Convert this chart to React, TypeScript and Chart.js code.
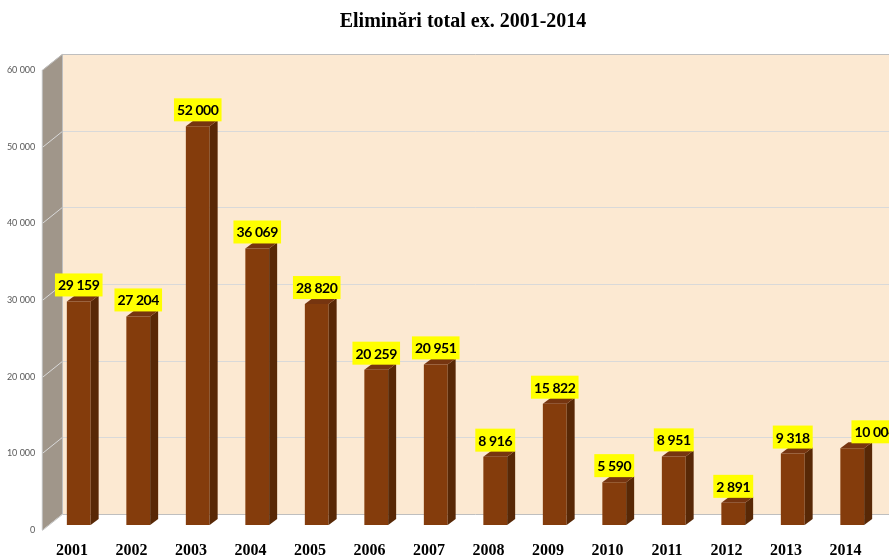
import React, { useEffect, useRef } from "react";
import { Chart, registerables } from "chart.js";

Chart.register(...registerables);

const titleText = "Eliminări total ex. 2001-2014";
const categories = ["2001", "2002", "2003", "2004", "2005", "2006", "2007", "2008", "2009", "2010", "2011", "2012", "2013", "2014"];
const values = [29159, 27204, 52000, 36069, 28820, 20259, 20951, 8916, 15822, 5590, 8951, 2891, 9318, 10004];
const yTicks = [0, 10000, 20000, 30000, 40000, 50000, 60000];

const fmt = (v: number) => String(v).replace(/\B(?=(\d{3})+(?!\d))/g, " ");

// 3D geometry (pixels)
const FRONT = { dx: -6.7, dy: 5 };
const BACK = { dx: 13.3, dy: -11 };
const BAR_DEPTH = { dx: 8, dy: -6 };
const LAST_LABEL_SHIFT = 23;

const COLORS = {
  wall: "#FCE9D2",
  side: "#A0968A",
  grid: "#D9D9D9",
  front: "#843C0C",
  barSide: "#582806",
  barTop: "#763510",
  label: "#FFFF00",
};

const plugin3d = {
  id: "excel3d",
  beforeDatasetsDraw(chart: any) {
    const ctx = chart.ctx;
    const { left } = chart.chartArea;
    const y = chart.scales.y;
    const W = chart.width;
    const yTop = y.getPixelForValue(60000);
    const y0 = y.getPixelForValue(0);
    ctx.save();
    // back wall
    ctx.fillStyle = COLORS.wall;
    ctx.fillRect(left + BACK.dx, yTop + BACK.dy, W - (left + BACK.dx), y0 - yTop);
    // side wall
    ctx.fillStyle = COLORS.side;
    ctx.beginPath();
    ctx.moveTo(left + FRONT.dx, yTop + FRONT.dy);
    ctx.lineTo(left + BACK.dx, yTop + BACK.dy);
    ctx.lineTo(left + BACK.dx, y0 + BACK.dy);
    ctx.lineTo(left + FRONT.dx, y0 + FRONT.dy);
    ctx.closePath();
    ctx.fill();
    // gridlines
    ctx.lineWidth = 1;
    for (const v of yTicks) {
      const py = Math.round(y.getPixelForValue(v)) + 0.5;
      ctx.strokeStyle = v === 0 || v === 60000 ? "#BFBFBF" : COLORS.grid;
      ctx.beginPath();
      ctx.moveTo(left + FRONT.dx, py + FRONT.dy);
      ctx.lineTo(left + BACK.dx, py + BACK.dy);
      ctx.lineTo(W, py + BACK.dy);
      ctx.stroke();
    }
    // wall edges
    ctx.strokeStyle = "#BFBFBF";
    ctx.beginPath();
    ctx.moveTo(Math.round(left + BACK.dx) + 0.5, yTop + BACK.dy);
    ctx.lineTo(Math.round(left + BACK.dx) + 0.5, y0 + BACK.dy);
    ctx.moveTo(left + FRONT.dx, yTop + FRONT.dy);
    ctx.lineTo(left + FRONT.dx, y0 + FRONT.dy);
    ctx.stroke();

    // y tick labels
    ctx.fillStyle = "#595959";
    ctx.font = "9px Lato";
    ctx.textAlign = "right";
    ctx.textBaseline = "middle";
    for (const v of yTicks) {
      ctx.fillText(fmt(v), left + FRONT.dx - 7, y.getPixelForValue(v) + FRONT.dy);
    }
    // title
    ctx.fillStyle = "#000";
    ctx.font = "bold 20px 'Liberation Serif'";
    ctx.textAlign = "center";
    ctx.fillText(titleText, 463, 22);
    ctx.restore();
  },
  afterDatasetsDraw(chart: any) {
    const ctx = chart.ctx;
    const meta = chart.getDatasetMeta(0);
    ctx.save();
    meta.data.forEach((bar: any) => {
      const { x, y: top, base, width } = bar.getProps(["x", "y", "base", "width"], true);
      const l = x - width / 2;
      const r = x + width / 2;
      ctx.fillStyle = COLORS.barSide;
      ctx.beginPath();
      ctx.moveTo(r, top);
      ctx.lineTo(r + BAR_DEPTH.dx, top + BAR_DEPTH.dy);
      ctx.lineTo(r + BAR_DEPTH.dx, base + BAR_DEPTH.dy);
      ctx.lineTo(r, base);
      ctx.closePath();
      ctx.fill();
      ctx.fillStyle = COLORS.barTop;
      ctx.beginPath();
      ctx.moveTo(l, top);
      ctx.lineTo(l + BAR_DEPTH.dx, top + BAR_DEPTH.dy);
      ctx.lineTo(r + BAR_DEPTH.dx, top + BAR_DEPTH.dy);
      ctx.lineTo(r, top);
      ctx.closePath();
      ctx.fill();
    });
    // x labels
    ctx.fillStyle = "#000";
    ctx.font = "bold 16px 'Liberation Serif'";
    ctx.textAlign = "center";
    ctx.textBaseline = "middle";
    meta.data.forEach((bar: any, i: number) => {
      ctx.fillText(categories[i], bar.x + FRONT.dx, 551);
    });
    // data labels
    ctx.font = "bold 14px Lato";
    try { (ctx as any).letterSpacing = "-0.4px"; } catch (e) {}
    meta.data.forEach((bar: any, i: number) => {
      const txt = fmt(values[i]);
      const tw = ctx.measureText(txt).width;
      const bw = tw + 6;
      const bh = 23;
      const cx = bar.x + (i === values.length - 1 ? LAST_LABEL_SHIFT : 0);
      const bottom = bar.y - 5;
      ctx.fillStyle = COLORS.label;
      ctx.fillRect(cx - bw / 2, bottom - bh, bw, bh);
      ctx.fillStyle = "#000";
      ctx.fillText(txt, cx, bottom - bh / 2 + 1);
    });
    ctx.restore();
  },
};

export default function App() {
  const ref = useRef<HTMLCanvasElement | null>(null);
  useEffect(() => {
    if (!ref.current) return;
    const chart = new Chart(ref.current, {
      type: "bar",
      data: {
        labels: categories,
        datasets: [
          {
            data: values,
            backgroundColor: COLORS.front,
            borderWidth: 0,
            barPercentage: 0.4,
            categoryPercentage: 1,
          },
        ],
      },
      options: {
        animation: false,
        responsive: true,
        maintainAspectRatio: false,
        layout: { padding: { top: 65, left: 49, right: 7, bottom: 34 } },
        plugins: { legend: { display: false }, tooltip: { enabled: false }, title: { display: false } },
        scales: {
          x: { display: false },
          y: { display: false, min: 0, max: 60000 },
        },
      },
      plugins: [plugin3d],
    });
    return () => chart.destroy();
  }, []);
  return (
    <div style={{ position: "fixed", left: 0, top: 0, width: 889, height: 559, background: "#fff" }}>
      <canvas ref={ref} />
    </div>
  );
}
